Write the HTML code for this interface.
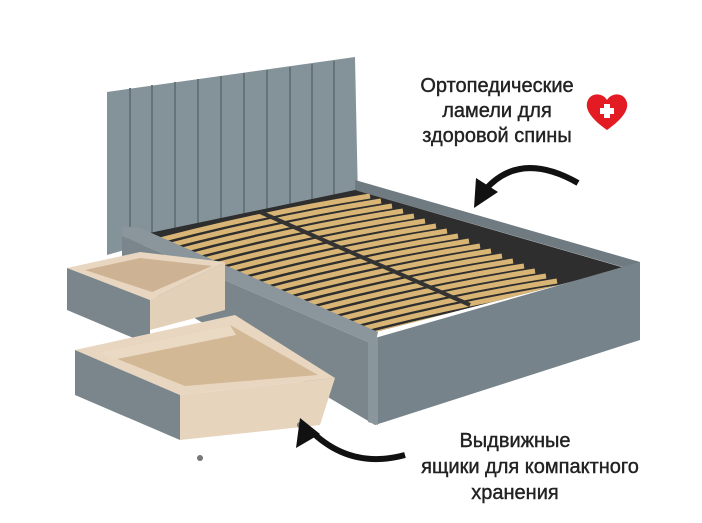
<!DOCTYPE html>
<html><head><meta charset="utf-8"><style>
html,body{margin:0;padding:0;background:#fff;width:702px;height:523px;overflow:hidden}
svg{display:block}
text{font-family:"Liberation Sans","DejaVu Sans",sans-serif;fill:#222;font-size:20px;text-anchor:middle}
</style></head><body>
<svg width="702" height="523" viewBox="0 0 702 523">
<defs>
<clipPath id="inner"><polygon points="135,236 355,190 625,268 375,332"/></clipPath>
</defs>
<!-- headboard -->
<polygon points="107,92 355,57 358,200 160,240 107,255" fill="#84939a"/>
<g stroke="#66747a" stroke-width="2">
<line x1="130" y1="88" x2="130" y2="245"/><line x1="152" y1="85" x2="152" y2="240"/>
<line x1="175" y1="82" x2="175" y2="236"/><line x1="198" y1="79" x2="198" y2="232"/>
<line x1="221" y1="76" x2="221" y2="228"/><line x1="244" y1="73" x2="244" y2="224"/>
<line x1="267" y1="70" x2="267" y2="220"/><line x1="290" y1="67" x2="290" y2="215"/>
<line x1="312" y1="64" x2="312" y2="210"/><line x1="334" y1="61" x2="334" y2="205"/>
</g>
<!-- frame back/right side -->
<polygon points="355,180 640,262 640,272 355,190" fill="#6f7b80"/>
<!-- interior dark -->
<polygon points="135,236 355,190 625,268 375,332" fill="#2e2e2e"/>
<g clip-path="url(#inner)" stroke="#d9b575" stroke-width="5" fill="none">
<path d="M130,248 Q250,215 370,196"/><path d="M141,253 Q261,220 381,201"/>
<path d="M152,258 Q272,225 392,206"/><path d="M163,263 Q283,230 403,211"/>
<path d="M174,268 Q294,235 414,216"/><path d="M185,273 Q305,240 425,221"/>
<path d="M196,278 Q316,245 436,226"/><path d="M207,283 Q327,250 447,231"/>
<path d="M218,288 Q338,255 458,236"/><path d="M229,293 Q349,260 469,241"/>
<path d="M240,298 Q360,265 480,246"/><path d="M251,303 Q371,270 491,251"/>
<path d="M262,308 Q382,275 502,256"/><path d="M273,313 Q393,280 513,261"/>
<path d="M284,318 Q404,285 524,266"/><path d="M295,323 Q415,290 535,271"/>
<path d="M306,328 Q426,295 546,276"/><path d="M317,333 Q437,300 557,281"/>
<path d="M328,338 Q448,305 568,286"/><path d="M339,343 Q459,310 579,291"/>
<path d="M350,348 Q470,315 590,296"/><path d="M361,353 Q481,320 601,301"/>
</g>
<line x1="260" y1="212" x2="470" y2="305" stroke="#333" stroke-width="4" clip-path="url(#inner)"/>
<!-- left side rail -->
<polygon points="122,226 140,228 378,332 375,345 122,236" fill="#8a969b"/>
<polygon points="122,236 375,345 375,425 122,275" fill="#7a868b"/>
<!-- foot -->
<polygon points="375,338 640,262 640,340 375,425" fill="#76838a"/>
<polygon points="368,340 378,337 378,425 368,422" fill="#8a969b"/>
<!-- drawer 1 -->
<polygon points="67,268 140,252 225,262 150,300" fill="#e8d6c0"/>
<polygon points="85,270 140,258 212,266 152,292" fill="#cdb393"/>
<polygon points="150,300 225,262 225,310 150,330" fill="#e3d0b8"/>
<polygon points="67,268 150,300 150,345 67,310" fill="#7a868b"/>
<!-- drawer 2 -->
<polygon points="75,350 235,315 335,378 180,395" fill="#e8d6c0"/>
<polygon points="100,352 230,325 318,375 185,386" fill="#d2b895"/>
<polygon points="100,352 230,325 236,335 112,360" fill="#ead9c3"/>
<polygon points="180,395 335,378 320,425 180,440" fill="#e6d4bd"/>
<polygon points="75,350 180,395 180,440 75,395" fill="#7a868b"/>
<circle cx="200" cy="458" r="3" fill="#777"/><circle cx="300" cy="425" r="3" fill="#777"/>
<!-- arrows -->
<path d="M578,183 Q520,150 485,190" stroke="#111" stroke-width="6" fill="none"/>
<polygon points="474,208 476,178 498,192" fill="#111"/>
<path d="M405,455 Q350,470 310,430" stroke="#111" stroke-width="6" fill="none"/>
<polygon points="300,418 296,448 320,434" fill="#111"/>
<!-- heart -->
<path d="M607,130 C590,118 584,108 588,100 C592,92 603,93 607,100 C611,93 622,92 626,100 C630,108 624,118 607,130 Z" fill="#e31b23"/>
<path d="M604,104h6v4h4v6h-4v4h-6v-4h-4v-6h4z" fill="#fff"/>
<!-- text -->
<g style="font-size:21px;stroke:#222;stroke-width:0.4">
<text x="497" y="92">Ортопедические</text>
<text x="497" y="117">ламели для</text>
<text x="497" y="142">здоровой спины</text>
<text x="515" y="447">Выдвижные</text>
<text x="530" y="473">ящики для компактного</text>
<text x="515" y="499">хранения</text>
</g>
</svg>
</body></html>
